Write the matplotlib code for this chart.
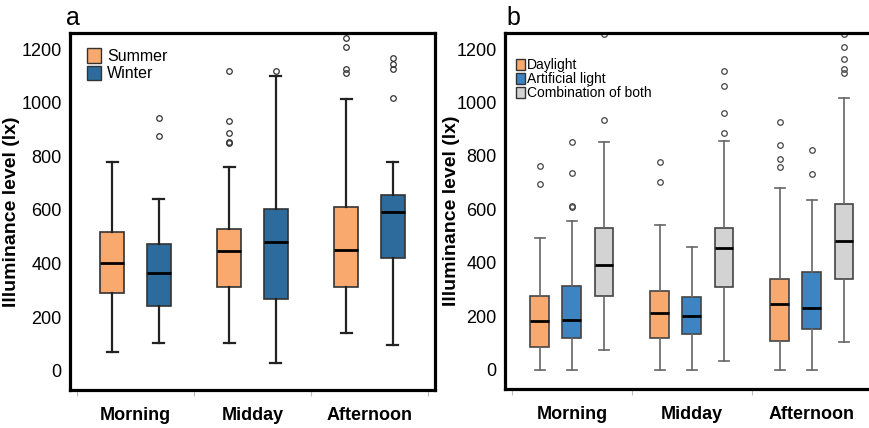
import matplotlib
matplotlib.use("Agg")
import matplotlib.pyplot as plt
from matplotlib.patches import Patch

plt.rcParams['font.family'] = ['Liberation Sans', 'DejaVu Sans']

periods = ["Morning", "Midday", "Afternoon"]

# panel a: season
season_names = ["Summer", "Winter"]
summer_low = [71, 102, 140]
summer_q1 = [290, 314, 313]
summer_med = [401, 445, 452]
summer_q3 = [517, 527, 611]
summer_high = [779, 760, 1012]
summer_out = [[], [1119, 932, 887, 855, 850], [1240, 1206, 1124, 1109]]

winter_low = [105, 29, 95]
winter_q1 = [240, 268, 420]
winter_med = [364, 481, 591]
winter_q3 = [472, 602, 657]
winter_high = [639, 1100, 779]
winter_out = [[941, 875], [1117], [1168, 1146, 1124, 1016]]

# panel b: light source
light_names = ["Daylight", "Artificial light", "Combination of both"]
day_low = [0, 0, 0]
day_q1 = [84, 118, 109]
day_med = [182, 214, 247]
day_q3 = [276, 296, 340]
day_high = [492, 541, 679]
day_out = [[762, 695], [776, 703], [927, 840, 790, 758]]

art_low = [0, 0, 0]
art_q1 = [119, 134, 151]
art_med = [188, 203, 231]
art_q3 = [315, 272, 365]
art_high = [557, 461, 635]
art_out = [[852, 737, 614, 610], [], [823, 734]]

comb_low = [74, 32, 105]
comb_q1 = [276, 311, 338]
comb_med = [393, 455, 482]
comb_q3 = [529, 532, 619]
comb_high = [851, 855, 1016]
comb_out = [[934, 1258], [1116, 1063, 960, 886], [1206, 1164, 1126, 1111, 1258]]

yticks = [0, 200, 400, 600, 800, 1000, 1200]


def stats(low, q1, med, q3, high, out):
    return [dict(whislo=a, q1=b, med=c, q3=d, whishi=e, fliers=f)
            for a, b, c, d, e, f in zip(low, q1, med, q3, high, out)]


fig = plt.figure(figsize=(8.69, 4.28), dpi=100)
axa = fig.add_axes([70/869, 1-390/428, 365/869, 357/428])
axb = fig.add_axes([505/869, 1-389/428, 375/869, 356/428])

orange = "#F9A86E"
blue_a = "#2C6B9C"
blue_b = "#3C85C2"
grey = "#D3D3D3"

pos = [1, 2, 3]

# panel a
for st, off, col in [(stats(summer_low, summer_q1, summer_med, summer_q3, summer_high, summer_out), -0.197, orange),
                     (stats(winter_low, winter_q1, winter_med, winter_q3, winter_high, winter_out), 0.197, blue_a)]:
    axa.bxp(st, positions=[p + off for p in pos], widths=0.205, patch_artist=True,
            boxprops=dict(facecolor=col, edgecolor="#333333", linewidth=1.2),
            medianprops=dict(color="black", linewidth=2),
            whiskerprops=dict(color="#222222", linewidth=1.6),
            capprops=dict(color="#222222", linewidth=1.6),
            capwidths=0.1,
            flierprops=dict(marker="o", markersize=4, markerfacecolor="none",
                            markeredgecolor="#333333", markeredgewidth=0.9))

# panel b
for st, off, col in [(stats(day_low, day_q1, day_med, day_q3, day_high, day_out), -0.267, orange),
                     (stats(art_low, art_q1, art_med, art_q3, art_high, art_out), 0.0, blue_b),
                     (stats(comb_low, comb_q1, comb_med, comb_q3, comb_high, comb_out), 0.267, grey)]:
    axb.bxp(st, positions=[p + off for p in pos], widths=0.158, patch_artist=True,
            boxprops=dict(facecolor=col, edgecolor="#444444", linewidth=1.2),
            medianprops=dict(color="black", linewidth=2),
            whiskerprops=dict(color="#666666", linewidth=1.2),
            capprops=dict(color="#666666", linewidth=1.2),
            capwidths=0.09,
            flierprops=dict(marker="o", markersize=4, markerfacecolor="none",
                            markeredgecolor="#444444", markeredgewidth=0.9))

for ax, xl, lp in [(axa, (0.44, 3.56), 1), (axb, (0.442, 3.567), -3)]:
    ax.set_xlim(*xl)
    ax.set_ylim(-72, 1260)
    ax.set_yticks(yticks)
    ax.set_xticks(pos)
    ax.set_xticklabels(periods, fontsize=13, fontweight="bold")
    ax.set_xticks([0.5, 1.5, 2.5, 3.5], minor=True)
    ax.tick_params(axis="x", which="major", length=0, pad=12)
    ax.tick_params(axis="x", which="minor", length=4, color="#BBBBBB", width=0.8)
    ax.tick_params(axis="y", length=0, labelsize=13, pad=6)
    for s in ax.spines.values():
        s.set_linewidth(2.3)
        s.set_color("black")
    ax.set_ylabel("Illuminance level (lx)", fontsize=14, fontweight="bold", labelpad=lp)

axa.legend(handles=[Patch(facecolor=orange, edgecolor="#333333", label=season_names[0]),
                    Patch(facecolor=blue_a, edgecolor="#333333", label=season_names[1])],
           loc="upper left", bbox_to_anchor=(0.03, 0.975), frameon=False, fontsize=11.5,
           handlelength=0.85, handleheight=1.0, handletextpad=0.4, labelspacing=0.1,
           borderaxespad=0)
axb.legend(handles=[Patch(facecolor=orange, edgecolor="#333333", label=light_names[0]),
                    Patch(facecolor=blue_b, edgecolor="#333333", label=light_names[1]),
                    Patch(facecolor=grey, edgecolor="#333333", label=light_names[2])],
           loc="upper left", bbox_to_anchor=(0.015, 0.945), frameon=False, fontsize=10,
           handlelength=0.6, handleheight=0.8, handletextpad=0.2, labelspacing=0.0,
           borderaxespad=0)

fig.text(66/869, 1-18/428, "a", fontsize=18, va="center", ha="left")
fig.text(506/869, 1-18/428, "b", fontsize=18, va="center", ha="left")

fig.savefig("out.png", dpi=100)
